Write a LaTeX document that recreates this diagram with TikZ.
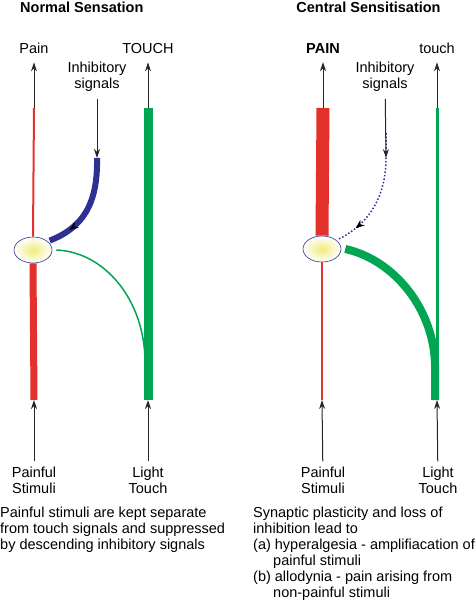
\documentclass[tikz,border=0pt]{standalone}
\usepackage{fontspec}
\setmainfont{Liberation Sans}
\usepackage{tikz}
\usetikzlibrary{shapes.geometric, arrows.meta, positioning, decorations.markings}
\definecolor{painred}{HTML}{E4312B}
\definecolor{touchgreen}{HTML}{00A651}
\definecolor{inhibblue}{HTML}{2E3192}
\definecolor{synglow}{HTML}{F2EC7A}

\begin{document}
\begin{tikzpicture}[x=1pt, y=-1pt,
  every node/.style={font=\fontsize{14.5}{16}\selectfont, inner sep=0pt},
  title/.style={font=\fontsize{14.5}{16}\selectfont\bfseries},
  lbl/.style={align=center},
  sig/.style={draw=black!85, line width=1pt, -{Stealth[length=9pt,width=6pt]}},
  synapse/.style={ellipse, draw=inhibblue, line width=0.6pt, minimum width=38pt,
    minimum height=26pt, inner color=synglow, outer color=white},
  midtip/.style={postaction={decorate}, decoration={markings, mark=at position #1 with
    {\arrow[black, line width=0.5pt]{Stealth[length=9pt,width=7pt]}}}}]
\useasboundingbox (0,0) rectangle (476,606);

% ---- Normal Sensation
\node[title, anchor=base west] (ltitle) at (20,12) {Normal Sensation};
\node[anchor=base] (lpain) at (34,53) {Pain};
\node[anchor=base] (ltouch) at (148,53) {TOUCH};
\node[lbl] (linhib) at (97,77) {Inhibitory\\signals};
\node[synapse] (lsyn) at (33,250) {};
\coordinate (lpaintop) at (34,108);
\coordinate (lpainbot) at (34,400);
\coordinate (ltouchtop) at (148,108);
\coordinate (ltouchbot) at (148,400);
\coordinate (lblue) at (97,158);
\coordinate (ljoin) at (145,360);

\draw[painred, line width=2pt] (lpaintop) -- (lsyn.north);
\draw[painred, line width=7pt] (lsyn.south) -- (lpainbot);
\draw[touchgreen, line width=9pt] (ltouchtop) -- (ltouchbot);
\draw[touchgreen, line width=1.5pt] ([xshift=4pt]lsyn.east) .. controls (105,252) and (144,300) .. (ljoin);
\draw[inhibblue, line width=6pt, midtip=0.78] (lblue) .. controls (98,205) and (82,228) .. ([xshift=3pt]lsyn.north east);

\draw[sig, shorten >=9pt] (lpaintop) -- (lpain);
\draw[sig, shorten >=9pt] (ltouchtop) -- (ltouch);
\draw[sig, shorten <=7pt] (linhib) -- (lblue);
\node[lbl] (lstim) at (34,480) {Painful\\Stimuli};
\node[lbl] (llight) at (148,480) {Light\\Touch};
\draw[sig, shorten <=5pt] (lstim) -- (lpainbot);
\draw[sig, shorten <=5pt] (llight) -- (ltouchbot);
\node[anchor=north west, align=left] (lnote) at (0,507)
  {Painful stimuli are kept separate\\from touch signals and suppressed\\by descending inhibitory signals};

% ---- Central Sensitisation
\node[title, anchor=base] (rtitle) at (368.5,12) {Central Sensitisation};
\node[title, anchor=base] (rpain) at (323,53) {PAIN};
\node[anchor=base] (rtouch) at (437,53) {touch};
\node[lbl] (rinhib) at (385,77) {Inhibitory\\signals};
\node[synapse] (rsyn) at (322,249) {};
\coordinate (rpaintop) at (323,108);
\coordinate (rpainbot) at (322,400);
\coordinate (rtouchtop) at (437,108);
\coordinate (rtouchbot) at (437,400);
\coordinate (rblue) at (386,133);
\coordinate (rbend) at (386,158);
\coordinate (rjoin) at (435,400);

\draw[painred, line width=13pt] (rpaintop) -- (rsyn.north);
\draw[painred, line width=2pt] (rsyn.south) -- (rpainbot);
\draw[touchgreen, line width=3pt] (rtouchtop) -- (rtouchbot);
\draw[touchgreen, line width=8pt] ([xshift=4pt]rsyn.east) .. controls (395,260) and (434,310) .. (435,365) -- (rjoin);
\draw[inhibblue, line width=1.5pt, dash pattern=on 1.5pt off 2pt, midtip=0.83]
  (rblue) -- (rbend) .. controls (386,200) and (366,226) .. ([xshift=2pt]rsyn.north east);

\draw[sig, shorten >=9pt] (rpaintop) -- (rpain);
\draw[sig, shorten >=9pt] (rtouchtop) -- (rtouch);
\draw[sig, shorten <=7pt] (rinhib) -- (rbend);
\node[lbl] (rstim) at (323,480) {Painful\\Stimuli};
\node[lbl] (rlight) at (438,480) {Light\\Touch};
\draw[sig, shorten <=5pt] (rstim) -- (rpainbot);
\draw[sig, shorten <=5pt] (rlight) -- (rtouchbot);
\node[anchor=north west, align=left] (rnote) at (253,507)
  {Synaptic plasticity and loss of\\inhibition lead to\\(a) hyperalgesia - amplifiacation of\\
   \hspace*{20pt}painful stimuli\\(b) allodynia - pain arising from\\\hspace*{20pt}non-painful stimuli};
\end{tikzpicture}
\end{document}
